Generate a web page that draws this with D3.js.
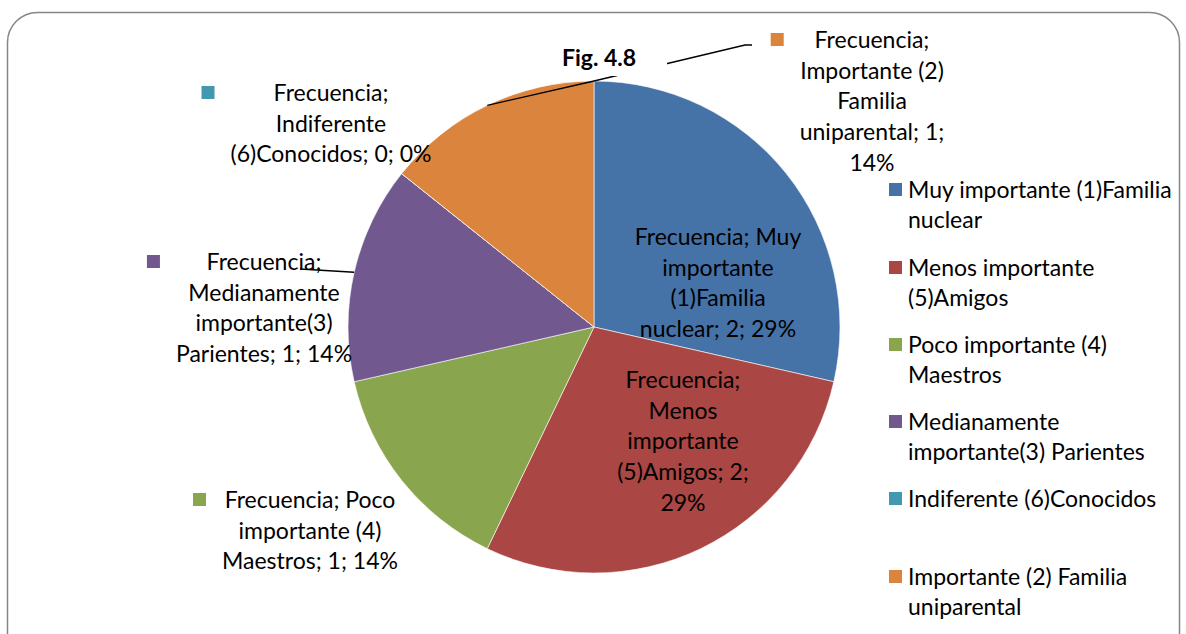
<!DOCTYPE html>
<html>
<head>
<meta charset="utf-8">
<script src="https://cdn.jsdelivr.net/npm/d3@7"></script>
<style>
  body { margin: 0; background: #fff; }
  svg text { font-family: Lato, "Open Sans", sans-serif; fill: #000; }
</style>
</head>
<body>
<svg id="chart"></svg>
<script>
// Data
var categories = [
    "Muy importante (1)Familia nuclear",
    "Menos importante (5)Amigos",
    "Poco importante (4) Maestros",
    "Medianamente importante(3) Parientes",
    "Indiferente (6)Conocidos",
    "Importante (2) Familia uniparental"
];
var values = [2, 2, 1, 1, 0, 1];
var colors = ["#4572a7", "#aa4643", "#89a54e", "#71588f", "#4198af", "#db843d"];
var seriesName = "Frecuencia";
var title = "Fig. 4.8";

// data label lines as wrapped in the picture
var labelLines = [
    ["Frecuencia; Muy", "importante", "(1)Familia", "nuclear; 2; 29%"],
    ["Frecuencia;", "Menos", "importante", "(5)Amigos; 2;", "29%"],
    ["Frecuencia; Poco", "importante (4)", "Maestros; 1; 14%"],
    ["Frecuencia;", "Medianamente", "importante(3)", "Parientes; 1; 14%"],
    ["Frecuencia;", "Indiferente", "(6)Conocidos; 0; 0%"],
    ["Frecuencia;", "Importante (2)", "Familia", "uniparental; 1;", "14%"]
];
var legendLines = [
    ["Muy importante (1)Familia", "nuclear"],
    ["Menos importante", "(5)Amigos"],
    ["Poco importante (4)", "Maestros"],
    ["Medianamente", "importante(3) Parientes"],
    ["Indiferente (6)Conocidos"],
    ["Importante (2) Familia", "uniparental"]
];

// Layout
var W = 1186, H = 634;
var cx = 594, cy = 327, radius = 246;
var fontSize = 23, lineH = 30.7;
// label text centre (x) and first-line baseline (y), relative to pie centre
var labelPos = [
    { x: 124, y: -82, marker: false },
    { x: 89, y: 61, marker: false },
    { x: -284, y: 181, marker: true },
    { x: -330, y: -57, marker: true },
    { x: -263, y: -226, marker: true },
    { x: 278, y: -279, marker: true }
];
var legendY = [198, 276, 353, 430, 507, 585];

var svg = d3.select("#chart").attr("width", W).attr("height", H);

// chart area border
svg.append("rect")
    .attr("x", 7.5).attr("y", 12.5)
    .attr("width", 1172).attr("height", 660)
    .attr("rx", 30).attr("ry", 30)
    .attr("fill", "#fff")
    .attr("stroke", "#868686")
    .attr("stroke-width", 1.5);

var pie = d3.pie().sort(null).value(d => d)(values);
var arc = d3.arc().innerRadius(0).outerRadius(radius);

var g = svg.append("g").attr("transform", "translate(" + cx + "," + cy + ")");

g.selectAll(".slice")
    .data(pie)
    .enter().append("path")
    .attr("class", "slice")
    .attr("d", arc)
    .attr("fill", (d, i) => colors[i])
    .attr("stroke", "#fff")
    .attr("stroke-width", 0.6);

// edge point at slice middle
function edgePoint(d, r) {
    var a = (d.startAngle + d.endAngle) / 2;
    return [r * Math.sin(a), -r * Math.cos(a)];
}

// leader lines
var purple = edgePoint(pie[3], radius);
g.append("line")
    .attr("x1", purple[0]).attr("y1", purple[1])
    .attr("x2", labelPos[3].x + 36).attr("y2", labelPos[3].y - 1)
    .attr("stroke", "#000").attr("stroke-width", 1.3);

var orange = edgePoint(pie[5], radius);
g.append("path")
    .attr("d", d3.line()([
        orange,
        [0, -radius],
        [labelPos[5].x - 127, labelPos[5].y - 3],
        [labelPos[5].x - 120, labelPos[5].y - 3]
    ]))
    .attr("fill", "none")
    .attr("stroke", "#000").attr("stroke-width", 1.3);

// title with white background box
svg.append("rect")
    .attr("x", 552).attr("y", 38)
    .attr("width", 115).attr("height", 38)
    .attr("fill", "#fff");
svg.append("text")
    .attr("x", 599).attr("y", 66)
    .attr("text-anchor", "middle")
    .style("font-weight", "bold")
    .style("font-size", "23px")
    .text(title);

// data labels
labelLines.forEach(function (lines, i) {
    var p = labelPos[i];
    var t = g.append("text")
        .attr("text-anchor", "middle")
        .style("font-size", fontSize + "px");
    lines.forEach(function (s, j) {
        t.append("tspan")
            .attr("x", p.x)
            .attr("y", p.y + j * lineH)
            .text(s);
    });
    if (p.marker) {
        var bb = t.node().getBBox();
        g.append("rect")
            .attr("x", bb.x - 29)
            .attr("y", p.y - 15)
            .attr("width", 13).attr("height", 13)
            .attr("fill", colors[i]);
    }
});

// legend
legendLines.forEach(function (lines, i) {
    svg.append("rect")
        .attr("x", 889).attr("y", legendY[i] - 15)
        .attr("width", 13).attr("height", 13)
        .attr("fill", colors[i]);
    var t = svg.append("text").style("font-size", fontSize + "px");
    lines.forEach(function (s, j) {
        t.append("tspan")
            .attr("x", 908)
            .attr("y", legendY[i] + j * 30)
            .text(s);
    });
});
</script>
</body>
</html>
